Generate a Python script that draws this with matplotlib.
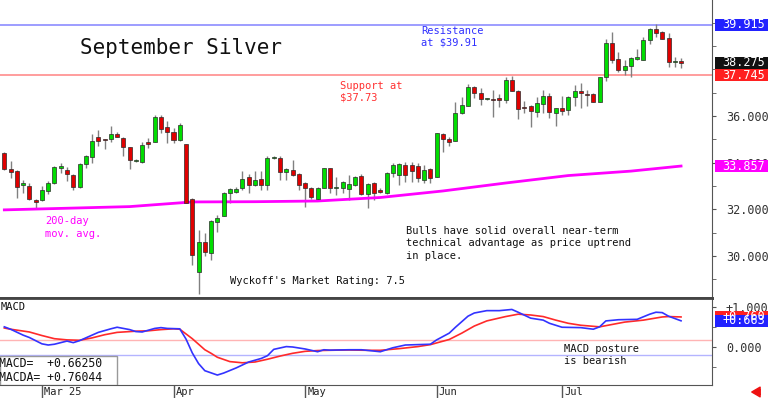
import numpy as np
import matplotlib
matplotlib.use("Agg")
import matplotlib.pyplot as plt
from matplotlib.patches import Rectangle
from matplotlib.transforms import blended_transform_factory

plt.rcParams['font.family'] = ['DejaVu Sans Mono', 'DejaVu Sans']

# daily OHLC, Sep silver (late Feb .. late Jul)
opens = [34.40, 33.73, 33.64, 33.04, 33.00, 32.42, 32.40, 32.80, 33.13, 33.79,
         33.69, 33.49, 32.95, 33.94, 34.26, 35.11, 35.01, 35.00, 35.23, 35.05,
         34.66, 34.08, 34.02, 34.87, 34.90, 35.94, 35.52, 35.30, 34.97, 34.80,
         32.44, 29.33, 30.60, 30.12, 31.46, 31.73, 32.72, 32.76, 32.90, 33.37,
         33.03, 33.29, 33.04, 34.21, 34.21, 33.61, 33.69, 33.50, 33.12, 32.90,
         32.43, 32.93, 33.76, 32.90, 32.90, 32.86, 33.04, 33.43, 32.66, 33.12,
         32.83, 32.69, 33.55, 33.47, 33.90, 33.89, 33.87, 33.26, 33.73, 33.40,
         35.23, 35.00, 34.94, 36.12, 36.43, 37.23, 37.00, 36.72, 36.74, 36.76,
         36.69, 37.54, 37.08, 36.38, 36.43, 36.18, 36.51, 36.87, 36.14, 36.33,
         36.26, 36.80, 37.08, 36.93, 36.93, 36.61, 37.66, 39.14, 38.43, 37.97,
         38.14, 38.43, 38.40, 39.25, 39.71, 39.61, 39.33, 38.30, 38.36]
highs = [34.45, 34.07, 33.68, 33.26, 33.12, 32.45, 33.00, 33.22, 33.86, 33.97,
         33.82, 33.53, 33.97, 34.33, 35.22, 35.40, 35.03, 35.58, 35.30, 35.10,
         34.68, 34.16, 34.87, 35.07, 36.04, 36.04, 35.79, 35.47, 35.69, 34.82,
         32.47, 31.12, 30.98, 31.55, 31.76, 32.76, 32.90, 32.95, 33.66, 33.52,
         33.66, 33.66, 34.29, 34.30, 34.29, 33.76, 34.12, 33.56, 33.19, 32.97,
         32.98, 33.78, 33.78, 33.37, 33.22, 33.47, 33.45, 33.50, 33.14, 33.16,
         32.92, 33.61, 33.97, 33.97, 34.03, 34.02, 34.00, 33.90, 33.76, 35.28,
         35.26, 35.11, 36.61, 36.83, 37.37, 37.28, 37.19, 36.78, 37.11, 36.93,
         37.66, 37.71, 37.10, 36.66, 36.45, 36.83, 37.11, 36.97, 36.36, 36.86,
         36.86, 37.33, 37.43, 37.11, 37.00, 37.68, 39.28, 39.58, 38.75, 38.40,
         38.51, 38.86, 39.40, 39.76, 39.94, 39.65, 39.54, 38.54, 38.47]
lows = [33.70, 33.36, 32.50, 32.72, 32.42, 32.00, 32.38, 32.66, 33.10, 33.57,
        33.20, 32.83, 32.93, 33.76, 34.00, 34.72, 34.57, 34.90, 35.08, 34.27,
        33.75, 34.03, 34.00, 34.64, 34.88, 35.28, 34.86, 34.86, 34.95, 32.27,
        29.62, 28.38, 30.00, 29.83, 31.05, 31.71, 32.29, 32.72, 32.85, 32.72,
        33.00, 32.83, 32.83, 34.16, 33.26, 33.26, 33.45, 32.83, 32.12, 32.43,
        32.41, 32.91, 32.69, 32.62, 32.69, 32.40, 33.02, 32.63, 32.05, 32.40,
        32.69, 32.67, 33.40, 33.05, 33.19, 33.19, 33.19, 33.12, 33.14, 33.38,
        34.47, 34.72, 34.92, 36.10, 36.41, 36.76, 36.47, 36.68, 35.94, 36.40,
        36.54, 37.06, 35.86, 36.12, 35.52, 35.94, 36.14, 35.90, 35.57, 36.04,
        36.04, 36.43, 36.33, 36.43, 36.58, 36.59, 37.51, 38.26, 37.90, 37.76,
        37.68, 38.41, 38.38, 39.07, 39.40, 39.28, 38.11, 38.11, 38.04]
closes = [33.73, 33.61, 32.95, 33.13, 32.45, 32.30, 32.83, 33.13, 33.80, 33.87,
          33.50, 32.97, 33.93, 34.27, 34.92, 34.92, 34.96, 35.23, 35.11, 34.67,
          34.10, 34.11, 34.77, 34.81, 35.94, 35.43, 35.33, 34.97, 35.61, 32.29,
          30.03, 30.59, 30.19, 31.52, 31.64, 32.72, 32.86, 32.87, 33.30, 33.04,
          33.26, 33.04, 34.19, 34.24, 33.61, 33.72, 33.47, 33.04, 32.90, 32.52,
          32.93, 33.76, 32.90, 32.93, 33.16, 33.09, 33.37, 32.65, 33.07, 32.69,
          32.76, 33.55, 33.90, 33.93, 33.47, 33.66, 33.33, 33.69, 33.33, 35.26,
          35.00, 34.90, 36.12, 36.47, 37.25, 36.97, 36.72, 36.74, 36.70, 36.69,
          37.54, 37.08, 36.29, 36.35, 36.23, 36.54, 36.87, 36.18, 36.33, 36.23,
          36.80, 37.08, 36.97, 36.91, 36.61, 37.66, 39.11, 38.40, 37.97, 38.14,
          38.47, 38.51, 39.25, 39.71, 39.54, 39.30, 38.33, 38.36, 38.275]

# 200-day moving average, read at some bars
ma_idx = [0, 10, 20, 30, 40, 50, 60, 70, 80, 90, 100, 108]
ma_vals = [31.98, 32.05, 32.12, 32.32, 32.33, 32.36, 32.51, 32.79, 33.13, 33.45, 33.64, 33.857]

# MACD (blue) and MACDA signal (red)
macd_idx = [0, 1, 3, 4, 6, 7, 8, 10, 11, 12, 14, 15, 17, 18, 20, 21, 22, 24, 25, 26,
            28, 29, 30, 31, 32, 34, 35, 37, 39, 41, 42, 43, 45, 46, 48, 50, 51, 52, 55, 57,
            60, 62, 64, 68, 69, 71, 72, 74, 75, 77, 79, 81, 82, 84, 86, 87, 89, 92, 94, 95,
            96, 98, 101, 103, 104, 105, 106, 108]
macd_vals = [0.51, 0.45, 0.30, 0.24, 0.08, 0.05, 0.07, 0.15, 0.11, 0.16, 0.30, 0.37, 0.46, 0.50,
             0.44, 0.39, 0.38, 0.47, 0.49, 0.47, 0.46, 0.20, -0.15, -0.42, -0.60, -0.71, -0.66,
             -0.53, -0.38, -0.29, -0.22, -0.06, 0.01, 0.0, -0.05, -0.12, -0.07, -0.08, -0.07,
             -0.07, -0.12, -0.02, 0.05, 0.07, 0.18, 0.35, 0.50, 0.78, 0.86, 0.92, 0.92, 0.95,
             0.88, 0.73, 0.68, 0.60, 0.50, 0.49, 0.45, 0.51, 0.66, 0.69, 0.70, 0.83, 0.88, 0.87,
             0.78, 0.66250]
sig_idx = [0, 1, 4, 6, 8, 10, 12, 14, 16, 18, 21, 23, 25, 27, 28, 30, 31, 32, 33, 34,
           36, 38, 40, 42, 44, 46, 48, 50, 53, 55, 58, 60, 63, 66, 68, 71, 73, 75, 77, 80,
           82, 84, 86, 88, 90, 92, 95, 97, 99, 102, 105, 106, 108]
sig_vals = [0.48, 0.45, 0.38, 0.29, 0.21, 0.18, 0.17, 0.23, 0.31, 0.37, 0.40, 0.41, 0.44, 0.46,
            0.45, 0.21, 0.07, -0.07, -0.16, -0.26, -0.37, -0.40, -0.38, -0.31, -0.23, -0.16,
            -0.11, -0.09, -0.08, -0.076, -0.084, -0.084, -0.042, 0.01, 0.06, 0.19, 0.35, 0.53,
            0.66, 0.77, 0.83, 0.81, 0.77, 0.68, 0.60, 0.55, 0.51, 0.57, 0.63, 0.68, 0.76, 0.77,
            0.76044]

month_idx = [6, 27, 48, 69, 89]
month_labels = ['Mar 25', 'Apr', 'May', 'Jun', 'Jul']

price_ticks = [30, 32, 34, 36]          # 38 and 40 sit under the value tags
resistance = 39.915
support = 37.745
last_close = closes[-1]
ma_last = ma_vals[-1]
macd_last = macd_vals[-1]
sig_last = sig_vals[-1]

W, H = 768, 398


def px_rect(x0, y0, x1, y1):
    return [x0 / W, 1 - y1 / H, (x1 - x0) / W, (y1 - y0) / H]


fig = plt.figure(figsize=(W / 100, H / 100), dpi=100)
ax = fig.add_axes(px_rect(0, 0, 712, 298))
axm = fig.add_axes(px_rect(0, 298, 712, 385), sharex=ax)

n = len(closes)
x = np.arange(n)
o = np.array(opens); c = np.array(closes)
up = c >= o

# candles
ax.vlines(x, lows, highs, color='#808080', lw=1, zorder=2)
bottoms = np.minimum(o, c)
heights = np.maximum(np.abs(c - o), 0.04)
ax.bar(x[up], heights[up], 0.64, bottom=bottoms[up], color='#00dd00',
       edgecolor='#2a2a2a', lw=0.5, zorder=3)
ax.bar(x[~up], heights[~up], 0.64, bottom=bottoms[~up], color='#e00000',
       edgecolor='#2a2a2a', lw=0.5, zorder=3)

ax.plot(ma_idx, ma_vals, color='#ff00ff', lw=2, zorder=2.5)
ax.axhline(resistance, color='#8c8cff', lw=1.2, zorder=1)
ax.axhline(support, color='#ff8c8c', lw=1.2, zorder=1)

ax.set_xlim(-0.69, 112.94)
ax.set_ylim(28.206, 40.968)

# MACD panel
axm.plot(sig_idx, sig_vals, color='#ff2a2a', lw=1.2, zorder=3)
axm.plot(macd_idx, macd_vals, color='#3333ff', lw=1.2, zorder=3)
axm.axhline(0.175, color='#ffb4b4', lw=1, zorder=1)
axm.axhline(-0.21, color='#b4b4ff', lw=1, zorder=1)
axm.set_ylim(-0.962, 1.24)

for a in (ax, axm):
    a.yaxis.tick_right()
    a.spines['left'].set_visible(False)
    a.spines['right'].set_color('#555555')
    a.tick_params(axis='y', which='both', direction='out', length=3, pad=7,
                  labelsize=8.5, colors='#555555', labelcolor='#333333')

ax.spines['top'].set_visible(False)
ax.spines['bottom'].set_color('#444444')
ax.spines['bottom'].set_linewidth(2)
ax.set_yticks(price_ticks)
ax.set_yticks(np.arange(29, 41, 1), minor=True)
ax.set_yticklabels([f'{v:.3f}' for v in price_ticks])
ax.tick_params(axis='x', which='both', bottom=False, labelbottom=False)

axm.spines['top'].set_color('#444444')
axm.spines['top'].set_linewidth(2)
axm.spines['bottom'].set_color('#555555')
axm.set_yticks([0, 1])
axm.set_yticks([-0.5, 0.5], minor=True)
axm.set_yticklabels(['0.000', '+1.000'])
axm.set_xticks(month_idx)
axm.set_xticklabels([])
axm.tick_params(axis='x', direction='out', length=9.5, width=1, color='#555555')
trm = blended_transform_factory(axm.transData, axm.transAxes)
for pos, lab in zip(month_idx, month_labels):
    axm.text(pos + 0.35, -0.075, lab, transform=trm, fontsize=7.5,
             va='center', ha='left', color='#222222')


def tag(a, y, text, color, px_per_unit):
    tr = blended_transform_factory(a.transAxes, a.transData)
    hh = 6 / px_per_unit
    a.add_patch(Rectangle((715 / 712, y - hh), 53 / 712, 2 * hh, transform=tr,
                          facecolor=color, edgecolor='none', clip_on=False, zorder=10))
    a.text(722 / 712, y, text, transform=tr, color='white', fontsize=8.5,
           va='center', ha='left', clip_on=False, zorder=11)


ppu = 298 / (40.968 - 28.206)
tag(ax, resistance, f'{resistance:.3f}', '#2222ff', ppu)
tag(ax, ma_last, f'{ma_last:.3f}', '#ff00ff', ppu)
tag(ax, last_close, f'{last_close:.3f}', '#111111', ppu)
tag(ax, support, f'{support:.3f}', '#ff2020', ppu)
ppm = 87 / (1.24 + 0.962)
tag(axm, sig_last, f'{sig_last:+.3f}', '#ff2020', ppm)
tag(axm, macd_last, f'{macd_last + 1e-9:+.3f}', '#2222ff', ppm)


def note(a, x_px, y_px, s, color='#111111', size=7.5, top=0, h=298):
    a.text(x_px / 712, 1 - (y_px - top) / h, s, transform=a.transAxes, color=color,
           fontsize=size, va='top', ha='left', linespacing=1.3)


note(ax, 80, 38.5, 'September Silver', size=15)
note(ax, 421, 25.5, 'Resistance\nat $39.91', color='#3030ff')
note(ax, 340, 80.5, 'Support at\n$37.73', color='#ff3030')
note(ax, 45, 216.5, '200-day\nmov. avg.', color='#ff00ff')
note(ax, 406, 226, 'Bulls have solid overall near-term\n'
                   'technical advantage as price uptrend\nin place.')
note(ax, 230, 276.5, "Wyckoff's Market Rating: 7.5")
note(axm, 1, 302.5, 'MACD', top=298, h=87)
note(axm, 564, 343.5, 'MACD posture\nis bearish', top=298, h=87)

# readout box bottom-left of MACD panel
axm.add_patch(Rectangle((0, 0), 117 / 712, 29 / 87, transform=axm.transAxes,
                        facecolor='white', edgecolor='#999999', lw=1, zorder=4))
axm.text(-0.002, 14.5 / 87, f'MACD=  {macd_last:+.5f}\nMACDA= {sig_last:+.5f}',
         transform=axm.transAxes, fontsize=8.3, va='center', ha='left',
         linespacing=1.15, zorder=5, color='#111111')

# little red arrow, bottom right
fig.add_artist(plt.Annotation('', xy=(749 / W, 6 / H), xytext=(763 / W, 6 / H),
                              xycoords='figure fraction', textcoords='figure fraction',
                              arrowprops=dict(arrowstyle='simple,head_width=0.7,head_length=0.6,tail_width=0.3',
                                              color='#ee1111', mutation_scale=10)))

fig.savefig('out.png', dpi=100, facecolor='white')
